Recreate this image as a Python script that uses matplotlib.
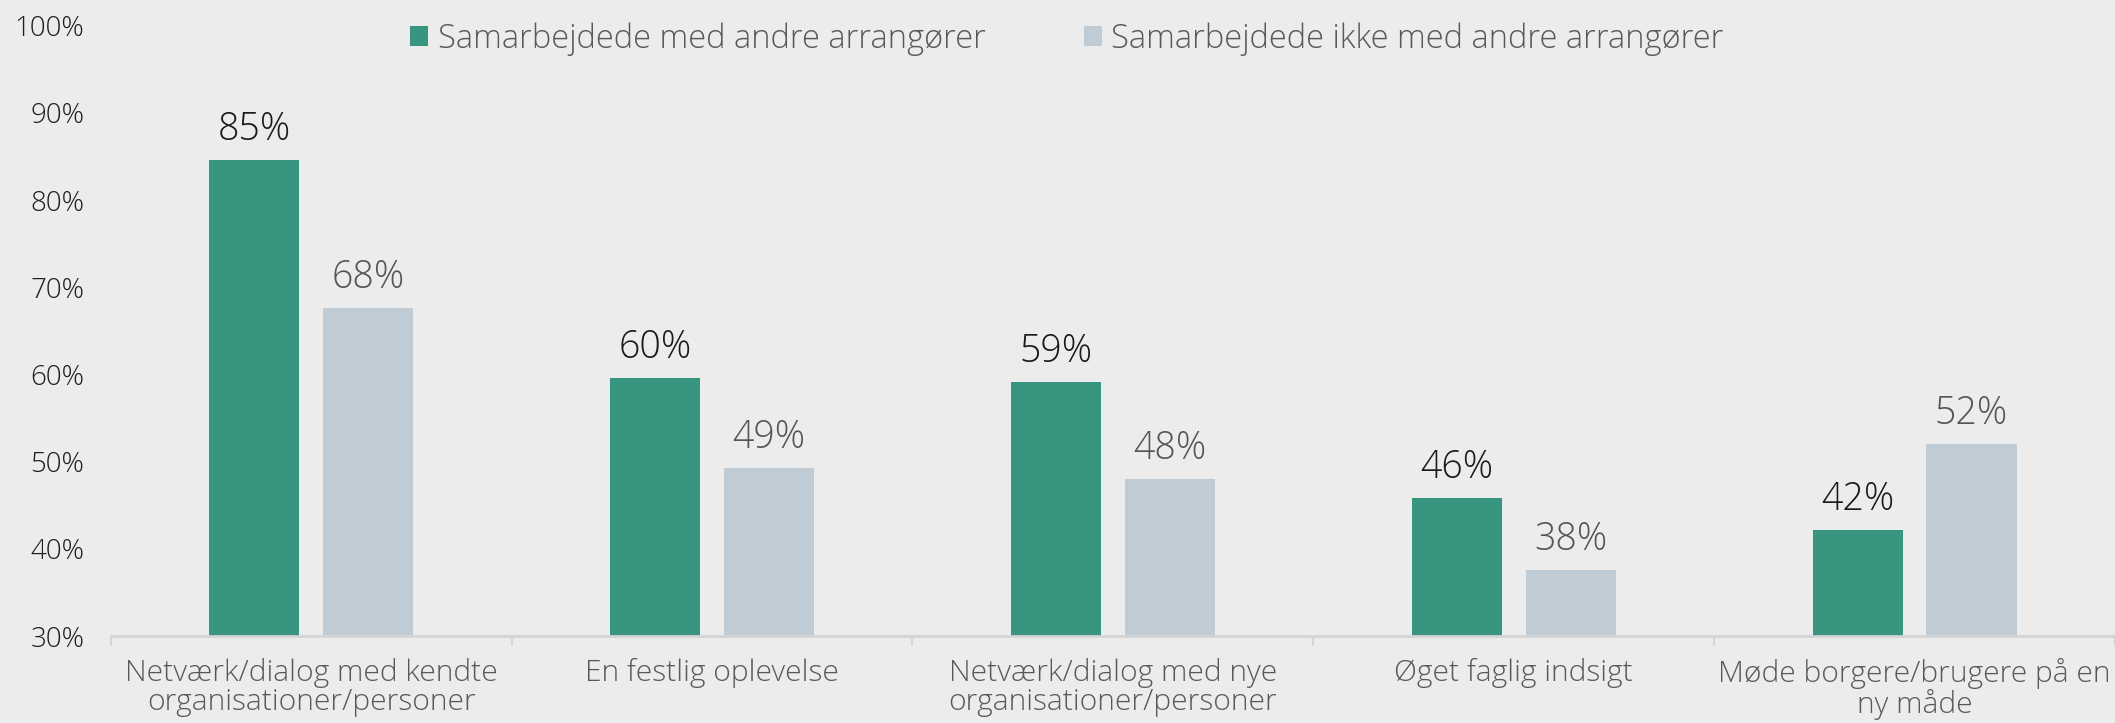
import matplotlib
matplotlib.use("Agg")
import matplotlib.pyplot as plt
from matplotlib.patches import Patch

categories = [
    "Netværk/dialog med kendte\norganisationer/personer",
    "En festlig oplevelse",
    "Netværk/dialog med nye\norganisationer/personer",
    "Øget faglig indsigt",
    "Møde borgere/brugere på en\nny måde",
]
series_names = ["Samarbejdede med andre arrangører", "Samarbejdede ikke med andre arrangører"]
with_values = [84.6, 59.6, 59.1, 45.8, 42.2]
without_values = [67.6, 49.3, 48.0, 37.6, 52.0]
y_ticks = [30, 40, 50, 60, 70, 80, 90, 100]

GREEN = "#389580"
GREY = "#c0ccd5"
BG = "#ececec"

plt.rcParams['font.family'] = ['Open Sans', 'DejaVu Sans']

fig = plt.figure(figsize=(21.15, 7.23), dpi=100, facecolor=BG)
ax = fig.add_axes([0.0524, 0.1203, 0.9476, 0.844])
ax.set_facecolor(BG)

x = list(range(len(categories)))
w = 0.225
off = 0.142
b1 = ax.bar([i - off for i in x], [v - 30 for v in with_values], w, bottom=30, color=GREEN)
b2 = ax.bar([i + off for i in x], [v - 30 for v in without_values], w, bottom=30, color=GREY)

for i, v in enumerate(with_values):
    ax.annotate(f"{round(v)}%", (i - off, v), xytext=(0, 8), textcoords="offset points",
                ha="center", va="bottom", fontsize=27, color="#1a1a1a", fontweight="light")
for i, v in enumerate(without_values):
    ax.annotate(f"{round(v)}%", (i + off, v), xytext=(0, 8), textcoords="offset points",
                ha="center", va="bottom", fontsize=27, color="#555555", fontweight="light")

ax.set_xlim(-0.5, len(categories) - 0.5)
ax.set_ylim(30, 100)
ax.set_yticks(y_ticks)
ax.set_yticklabels([f"{t}%" for t in y_ticks], fontsize=20, color="#1f1f1f", fontweight="light")
ax.tick_params(axis="y", length=0, pad=19)

ax.set_xticks(x)
ax.set_xticklabels(categories, fontsize=21.6, color="#595959", fontweight="light", linespacing=0.97)
ax.tick_params(axis="x", which="major", length=0, pad=16)
ax.set_xticks([i - 0.5 for i in range(len(categories) + 1)], minor=True)
ax.tick_params(axis="x", which="minor", length=7.5, width=1.5, color="#d4d4d4")

for s in ["top", "right", "left"]:
    ax.spines[s].set_visible(False)
ax.spines["bottom"].set_color("#d4d4d4")
ax.spines["bottom"].set_linewidth(2)

handles = [Patch(facecolor=GREEN), Patch(facecolor=GREY)]
leg = fig.legend(handles, series_names, loc="center", bbox_to_anchor=(0.5045, 0.946), ncol=2,
                 frameon=False, handlelength=0.55, handleheight=0.55, handletextpad=0.3,
                 columnspacing=3.0, prop={"size": 23.5, "weight": "light"})
for t in leg.get_texts():
    t.set_color("#595959")

fig.savefig("out.png", dpi=100, facecolor=BG)
